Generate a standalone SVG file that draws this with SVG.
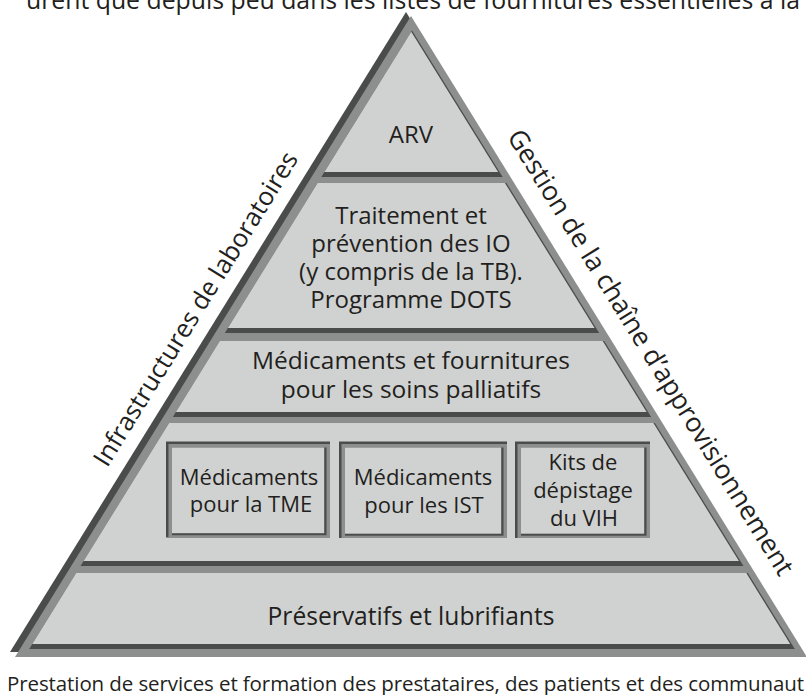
<svg xmlns="http://www.w3.org/2000/svg" width="806" height="695" viewBox="0 0 806 695">
<style>
.dk{fill:#4a4c4b}
.gr{fill:#8d8f8e}
.lt{fill:#d0d2d1}
text{font-family:"Open Sans","Noto Sans","Liberation Sans",sans-serif;fill:#231f20}
.c{text-anchor:middle}
.t24{font-size:24px}
.t22{font-size:22px}
</style>
<rect width="806" height="695" fill="#ffffff"/>
<text id="top-text" x="26" y="9" font-size="24.8" textLength="774">urent que depuis peu dans les listes de fournitures essentielles à la</text>
<g id="frame">
<polygon class="dk" points="406,12 802,652 10,652"/>
<polygon class="gr" points="411,16 807,657 15,657"/>
</g>
<g id="layer-arv">
<polygon class="dk" points="412,30.5 502.7,177 321.3,177"/>
<polygon class="lt" points="411.25,31.75 498.1,172 324.4,172"/>
<text class="c t24" x="411" y="143">ARV</text>
</g>
<g id="layer-io">
<polygon class="dk" points="317.6,183 506.4,183 599.2,333 224.8,333"/>
<polygon class="lt" points="317.6,183 504.9,183 594.6,328 227.9,328"/>
<text class="c t24" x="411" y="224">Traitement et</text>
<text class="c t24" x="411" y="252">prévention des IO</text>
<text class="c t24" x="411" y="280">(y compris de la TB).</text>
<text class="c t24" x="411" y="308">Programme DOTS</text>
</g>
<g id="layer-palliatifs">
<polygon class="dk" points="219.8,341 604.2,341 651.2,417 172.8,417"/>
<polygon class="lt" points="219.8,341 602.7,341 646.6,412 175.9,412"/>
<text class="c" font-size="24.5" x="411" y="369">Médicaments et fournitures</text>
<text class="c" font-size="24.5" x="411" y="398">pour les soins palliatifs</text>
</g>
<g id="layer-medicaments">
<polygon class="dk" points="169.1,423 654.9,423 743.5,566 80.5,566"/>
<polygon class="lt" points="169.1,423 653.4,423 738.9,561 83.6,561"/>
</g>
<g id="box-tme">
<rect class="dk" x="166" y="441.5" width="164" height="96"/>
<rect class="gr" x="168.5" y="444" width="161.5" height="93.5"/>
<rect class="dk" x="172" y="447.5" width="154.5" height="87.7"/>
<rect class="lt" x="172" y="447.5" width="152.2" height="85.7"/>
<text class="c t22" x="249" y="485">Médicaments</text>
<text class="c t22" x="251" y="512">pour la TME</text>
</g>
<g id="box-ist">
<rect class="dk" x="339" y="441.5" width="168" height="96.5"/>
<rect class="gr" x="341.5" y="444" width="165.5" height="94"/>
<rect class="dk" x="345" y="447.5" width="158.5" height="88.2"/>
<rect class="lt" x="345" y="447.5" width="156.2" height="86.2"/>
<text class="c t22" x="423" y="485">Médicaments</text>
<text class="c t22" x="424" y="513">pour les IST</text>
</g>
<g id="box-vih">
<rect class="dk" x="515" y="441.5" width="135" height="96.5"/>
<rect class="gr" x="517.5" y="444" width="132.5" height="94"/>
<rect class="dk" x="521" y="447.5" width="125.5" height="88.2"/>
<rect class="lt" x="521" y="447.5" width="123.2" height="86.2"/>
<text class="c t22" x="583" y="470">Kits de</text>
<text class="c t22" x="583" y="498">dépistage</text>
<text class="c t22" x="584" y="526">du VIH</text>
</g>
<g id="layer-preservatifs">
<polygon class="dk" points="76.2,573 747.8,573 794.8,649 29.2,649"/>
<polygon class="lt" points="76.2,573 746.3,573 790.2,644 32.3,644"/>
<text class="c" font-size="24.6" x="411" y="625">Préservatifs et lubrifiants</text>
</g>
<g id="label-laboratoires">
<text class="c" font-size="25.5" transform="translate(203,313.5) rotate(-58.24)">Infrastructures de laboratoires</text>
</g>
<g id="label-approvisionnement">
<text class="c" font-size="26.5" transform="translate(643,357) rotate(58.24)">Gestion de la chaîne d’approvisionnement</text>
</g>
<text id="bottom-text" x="7" y="691" font-size="20.5" textLength="797">Prestation de services et formation des prestataires, des patients et des communaut</text>
<g id="connectors"/>
</svg>
